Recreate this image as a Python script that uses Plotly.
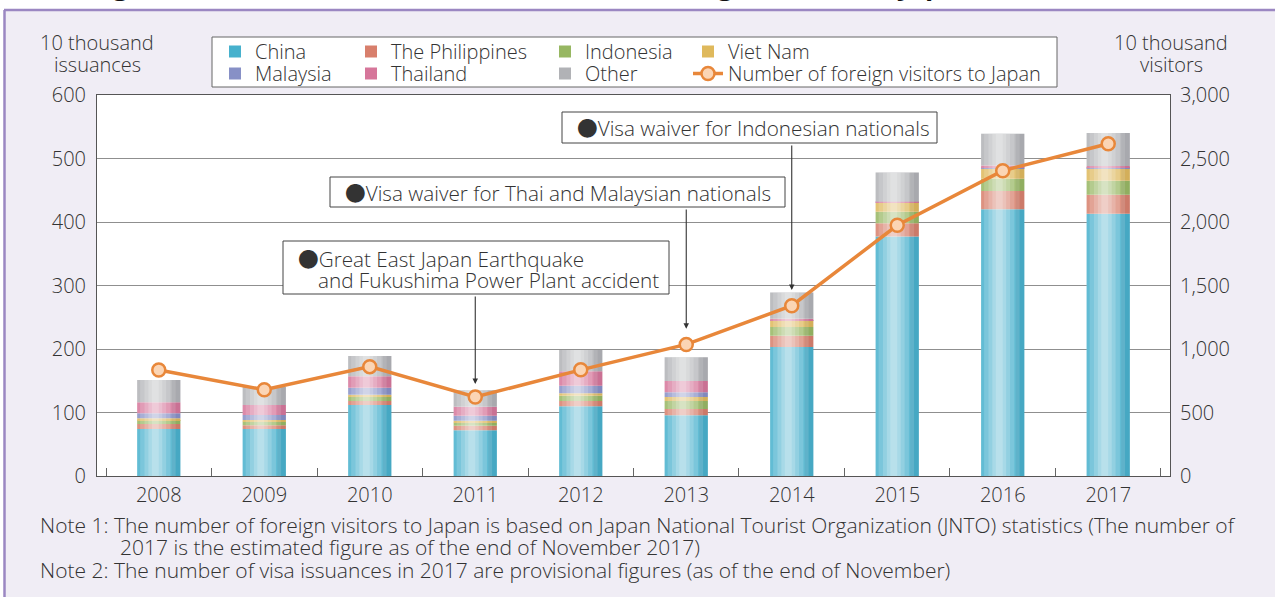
import numpy as np
import plotly.graph_objects as go

# ---- data (10 thousand issuances / 10 thousand visitors) ----
years = ["2008", "2009", "2010", "2011", "2012", "2013", "2014", "2015", "2016", "2017"]
china = [74, 74, 112, 72, 110, 95.5, 203, 377, 420, 413]
philippines = [8, 6, 6, 7, 8, 10, 18, 21, 29, 30]
indonesia = [6, 5.5, 7, 5, 8.5, 12.5, 13.5, 18, 19, 22]
viet_nam = [3, 2.5, 3, 3, 4, 6.5, 10.5, 14, 17, 20]
malaysia = [8, 8, 11, 8, 11.5, 7.5, 0.5, 0.5, 1, 1]
thailand = [17, 16, 18, 14, 23, 17.5, 2, 1.5, 3, 2]
other = [35, 28, 32, 26, 33.5, 37.5, 41.5, 46, 50, 52]
visitors = [835, 679, 861, 622, 836, 1036, 1341, 1974, 2404, 2616]

series_names = ["China", "The Philippines", "Indonesia", "Viet Nam", "Malaysia", "Thailand", "Other"]
series_values = [china, philippines, indonesia, viet_nam, malaysia, thailand, other]
line_name = "Number of foreign visitors to Japan"

# ---- styling ----
FONT = "Open Sans"
FW = 300
FS = 20
TXT = "#333333"
BULLET = "<span style=\"font-family:'Noto Sans CJK JP'\">●</span>"
colors = {
    "China": "#47b1cd",
    "The Philippines": "#d87f6c",
    "Indonesia": "#97b762",
    "Viet Nam": "#dfb95c",
    "Malaysia": "#8790c6",
    "Thailand": "#d6769a",
    "Other": "#b1b2b6",
}
ORANGE = "#e8873a"
BG = "#f0edf5"
FRAME = "#9b87c2"

W, H = 1275, 597
L, R, T, B = 97, 1170, 95, 476
BAR_W = 0.41


def fx(px):
    return (px - L) / (R - L)


def fy(py):
    return (B - py) / (B - T)


def font(size=FS, color=TXT, weight=FW):
    return dict(family=FONT, size=size, color=color, weight=weight)


# legend slots: (legend id, left px, row centre px)
legend_slots = {
    "China": ("legend", 215, 51),
    "The Philippines": ("legend2", 351, 51),
    "Indonesia": ("legend3", 545, 51),
    "Viet Nam": ("legend4", 688, 51),
    "Malaysia": ("legend5", 215, 73),
    "Thailand": ("legend6", 351, 73),
    "Other": ("legend7", 545, 73),
    line_name: ("legend8", 688, 73),
}

fig = go.Figure()

# stacked segments drawn with explicit bases
vals = np.array(series_values, dtype=float)
bases = np.vstack([np.zeros(len(years)), np.cumsum(vals, axis=0)[:-1]])
totals = vals.sum(axis=0)

for name, v, b in zip(series_names, vals, bases):
    fig.add_trace(go.Bar(
        x=years, y=v, base=b, width=BAR_W, name=name,
        marker=dict(color=colors[name], line=dict(width=0)),
        legend=legend_slots[name][0],
        hovertemplate=name + " %{x}: %{y}<extra></extra>",
    ))

# cylinder-like shading over each full column
shade_layers = [
    (0.90, -0.06, "rgba(255,255,255,0.15)"),
    (0.70, -0.08, "rgba(255,255,255,0.16)"),
    (0.50, -0.08, "rgba(255,255,255,0.18)"),
    (0.32, -0.08, "rgba(255,255,255,0.20)"),
    (0.16, -0.08, "rgba(255,255,255,0.20)"),
    (0.20, 0.40, "rgba(60,60,70,0.07)"),
]
for frac, shift, col in shade_layers:
    w = BAR_W * frac
    fig.add_trace(go.Bar(
        x=years, y=totals, base=np.zeros(len(years)), width=w,
        offset=shift * BAR_W - w / 2,
        marker=dict(color=col, line=dict(width=0)),
        showlegend=False, hoverinfo="skip",
    ))

fig.add_trace(go.Scatter(
    x=years, y=visitors, name=line_name, yaxis="y2", mode="lines+markers",
    line=dict(color=ORANGE, width=3.5),
    marker=dict(size=13, color="#fbd5b5", line=dict(color=ORANGE, width=2.5)),
    legend=legend_slots[line_name][0],
    hovertemplate="%{x}: %{y:,}<extra></extra>",
))


# ---- frame, legend box, callout boxes ----
def rect(x0, y0, x1, y1, fill, line_color=None, width=0, layer="below"):
    return dict(type="rect", xref="paper", yref="paper", x0=fx(x0), x1=fx(x1), y0=fy(y1), y1=fy(y0),
                fillcolor=fill, line=dict(color=line_color or fill, width=width), layer=layer)


shapes = [
    rect(-5, -5, W + 5, 10, "white"),
    rect(-5, -5, 4, H + 5, "white"),
    dict(type="line", xref="paper", yref="paper", x0=fx(4), x1=fx(W + 5), y0=fy(10), y1=fy(10),
         line=dict(color=FRAME, width=2.5), layer="below"),
    dict(type="line", xref="paper", yref="paper", x0=fx(4.5), x1=fx(4.5), y0=fy(10), y1=fy(H + 5),
         line=dict(color=FRAME, width=2.5), layer="below"),
    rect(212, 37, 1057, 87, "white", "#666666", 1),
]

# event callouts: box (x0, y0, x1, y1), text lines (x, y centre, text), target year, arrow tip value
callouts = [
    ((283, 241, 669, 294),
     [(296, 258, BULLET + "Great East Japan Earthquake"), (316, 280, "and Fukushima Power Plant accident")],
     "2011", 145),
    ((330, 177, 785, 207),
     [(343, 192, BULLET + "Visa waiver for Thai and Malaysian nationals")],
     "2013", 232),
    ((562, 112, 937, 143),
     [(575, 127, BULLET + "Visa waiver for Indonesian nationals")],
     "2014", 293),
]

ann = []
# partially visible heading above the frame
ann.append(dict(xref="paper", yref="paper", x=fx(42), y=fy(5), xanchor="left", yanchor="bottom",
                text="Changes in the number of visa issuances and foreign visitors to Japan",
                showarrow=False, font=font(27, "#111111", 700)))
# axis unit labels
for cx, lines in ((97, ["10 thousand", "issuances"]), (1171, ["10 thousand", "visitors"])):
    for i, t in enumerate(lines):
        ann.append(dict(xref="paper", yref="paper", x=fx(cx), y=fy(43 + 22 * i), xanchor="center",
                        yanchor="middle", text=t, showarrow=False, font=font()))

for (bx0, by0, bx1, by1), lines, yr, tip in callouts:
    shapes.append(rect(bx0, by0, bx1, by1, "white", "#444444", 1, layer="above"))
    for tx, ty, t in lines:
        ann.append(dict(xref="paper", yref="paper", x=fx(tx), y=fy(ty), xanchor="left", yanchor="middle",
                        text=t, showarrow=False, font=font(20.7)))
    tip_px = T + (600 - tip) / 600 * (B - T)
    ann.append(dict(x=years.index(yr), y=tip, xref="x", yref="y", text="", showarrow=True,
                    ax=0, ay=by1 - tip_px + 1, axref="pixel", ayref="pixel",
                    arrowhead=2, arrowsize=1, arrowwidth=1.1, arrowcolor="#333333",
                    font=dict(size=1)))

# notes
notes = [
    (38, 525, "Note 1: The number of foreign visitors to Japan is based on Japan National Tourist Organization (JNTO) statistics (The number of"),
    (118, 547, "2017 is the estimated figure as of the end of November 2017)"),
    (38, 570, "Note 2: The number of visa issuances in 2017 are provisional figures (as of the end of November)"),
]
for nx, ny, txt in notes:
    ann.append(dict(xref="paper", yref="paper", x=fx(nx), y=fy(ny), xanchor="left", yanchor="middle",
                    text=txt, showarrow=False, font=font(21)))

legends = {}
for name, (lid, lx, ly) in legend_slots.items():
    legends[lid] = dict(orientation="v", bgcolor="rgba(0,0,0,0)", borderwidth=0,
                        font=font(), traceorder="normal",
                        xanchor="left", yanchor="top", itemwidth=30,
                        x=fx(lx), y=fy(ly - 19))

fig.update_layout(
    width=W, height=H,
    margin=dict(l=L, r=W - R, t=T, b=H - B, pad=0),
    paper_bgcolor=BG, plot_bgcolor="white",
    barmode="overlay",
    font=font(),
    xaxis=dict(type="category", showline=True, linecolor="#555555", linewidth=1, mirror=True,
               ticks="inside", tickson="boundaries", ticklen=8, tickcolor="#666666",
               showgrid=False, tickfont=font(), ticklabelstandoff=1),
    yaxis=dict(range=[0, 600], dtick=100, showline=True, linecolor="#555555", linewidth=1,
               showgrid=True, gridcolor="#8f8f8f", gridwidth=1.2, zeroline=False,
               ticks="", tickfont=font(), ticklabelstandoff=6),
    yaxis2=dict(range=[0, 3000], dtick=500, overlaying="y", side="right", showline=True,
                linecolor="#555555", linewidth=1, showgrid=False, zeroline=False,
                tickformat=",", ticks="", tickfont=font(), ticklabelstandoff=5),
    shapes=shapes,
    annotations=ann,
    hovermode="closest",
    **legends,
)

fig.write_html("out.html")
